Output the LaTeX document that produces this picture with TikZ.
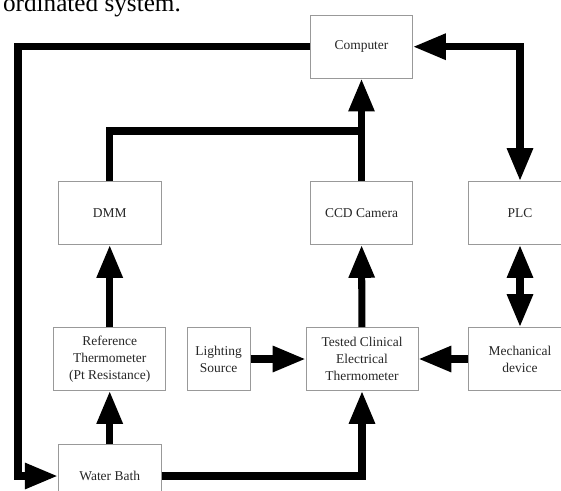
\documentclass[tikz,border=0pt]{standalone}
\usepackage{fontspec}
\setmainfont{Liberation Serif}
\usetikzlibrary{arrows.meta}

\begin{document}
\begin{tikzpicture}[x=0.03cm, y=-0.03cm,
  blk/.style = {draw=black!40, line width=0.8pt, minimum width=#1*0.03cm, minimum height=63*0.03cm,
    inner sep=0pt, align=center, text=black!85, font=\fontsize{11.5}{14.5}\selectfont},
  blk/.default = 103,
  wire/.style = {line width=6pt, black},
  head/.style = {-{Triangle[length=28pt, width=21pt]}},
  heads/.style = {{Triangle[length=28pt, width=21pt]}-{Triangle[length=28pt, width=21pt]}}]
\useasboundingbox (0, 0) rectangle (561, 490);
\clip (0, 0) rectangle (561, 490);

\node[anchor=base west, font=\fontsize{21.5}{24}\selectfont] (cap) at (-1, 11.5) {ordinated system.};

\node[blk=102] (comp) at (361.5, 46.7) {Computer};
\node[blk] (dmm) at (109.7, 213) {DMM};
\node[blk=102] (ccd) at (361.5, 213) {CCD Camera};
\node[blk=104] (plc) at (520, 213) {PLC};
\node[blk=112] (ref) at (109.7, 359) {Reference\\Thermometer\\(Pt Resistance)};
\node[blk=63] (light) at (218.7, 359) {Lighting\\Source};
\node[blk=112] (tested) at (362, 359) {Tested Clinical\\Electrical\\Thermometer};
\node[blk=104] (mech) at (520, 359) {Mechanical\\device};
\node[blk] (bath) at (109.7, 476) {Water Bath};

\coordinate (tl) at (18, 46.7);
\coordinate (bl) at (18, 476);
\coordinate (jn) at (361.5, 131);

\draw[wire, head] (comp.west) -- (tl) -- (bl) -- (bath.west);
\draw[wire, heads] (comp.east) -| (plc.north);
\draw[wire, heads] (plc) -- (mech);
\draw[wire] (dmm.north) |- (jn);
\draw[wire, head] (ccd) -- (comp);
\draw[wire, head] (ref) -- (dmm);
\draw[wire, head] (tested) -- (ccd);
\draw[wire, head] (bath) -- (ref);
\draw[wire, head] (light) -- (tested);
\draw[wire, head] (mech) -- (tested);
\draw[wire, head] (bath.east) -| (tested.south);
\end{tikzpicture}
\end{document}
